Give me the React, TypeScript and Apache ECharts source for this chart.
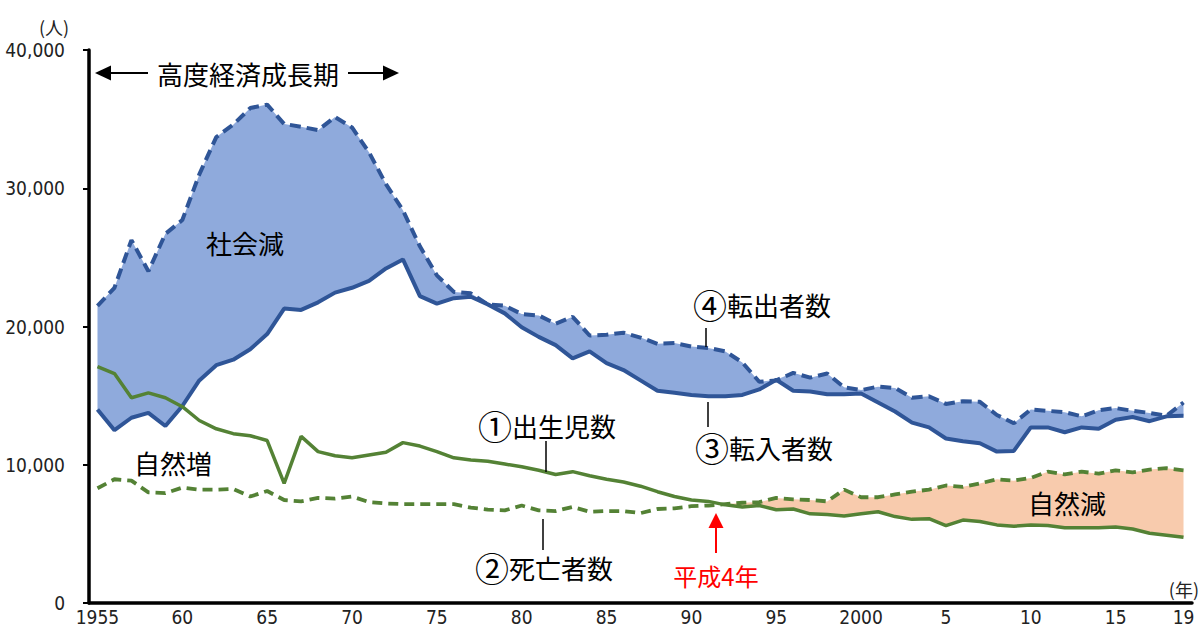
import React, { useEffect, useRef } from "react";
import * as echarts from "echarts";

const years = [
  1955, 1956, 1957, 1958, 1959, 1960, 1961, 1962, 1963, 1964,
  1965, 1966, 1967, 1968, 1969, 1970, 1971, 1972, 1973, 1974,
  1975, 1976, 1977, 1978, 1979, 1980, 1981, 1982, 1983, 1984,
  1985, 1986, 1987, 1988, 1989, 1990, 1991, 1992, 1993, 1994,
  1995, 1996, 1997, 1998, 1999, 2000, 2001, 2002, 2003, 2004,
  2005, 2006, 2007, 2008, 2009, 2010, 2011, 2012, 2013, 2014,
  2015, 2016, 2017, 2018, 2019,
];

// ④転出者数
const outMigrants = [
  21500, 22800, 26250, 24000, 26700, 27700, 31000, 33700, 34600, 35800,
  36050, 34650, 34450, 34200, 35150, 34400, 32600, 30300, 28400, 25800,
  23700, 22500, 22400, 21600, 21500, 20900, 20800, 20200, 20700, 19350,
  19400, 19550, 19200, 18750, 18800, 18550, 18450, 18200, 17400, 16000,
  16100, 16650, 16300, 16600, 15600, 15400, 15650, 15550, 14850, 14950,
  14400, 14600, 14550, 13600, 13000, 14000, 13900, 13800, 13500, 13950,
  14100, 13900, 13750, 13550, 14500,
];

// ③転入者数
const inMigrants = [
  14000, 12500, 13400, 13750, 12800, 14250, 16100, 17200, 17600, 18350,
  19450, 21300, 21200, 21750, 22450, 22800, 23300, 24200, 24850, 22200,
  21650, 22050, 22150, 21600, 20950, 19950, 19250, 18650, 17700, 18200,
  17350, 16850, 16100, 15350, 15200, 15050, 14950, 14950, 15050, 15450,
  16150, 15350, 15300, 15100, 15100, 15150, 14500, 13850, 13050, 12700,
  11900, 11700, 11550, 10950, 11000, 12700, 12700, 12350, 12700, 12600,
  13250, 13450, 13150, 13500, 13550,
];

// ①出生児数
const births = [
  17100, 16600, 14850, 15200, 14850, 14200, 13200, 12600, 12250, 12100,
  11750, 8650, 12050, 10950, 10650, 10500, 10700, 10900, 11600, 11350,
  10950, 10500, 10350, 10250, 10050, 9850, 9600, 9300, 9500, 9200,
  8950, 8750, 8450, 8050, 7700, 7450, 7350, 7100, 6950, 7050,
  6750, 6800, 6450, 6400, 6300, 6450, 6600, 6250, 6050, 6100,
  5600, 6000, 5900, 5650, 5550, 5650, 5600, 5450, 5450, 5450,
  5500, 5350, 5050, 4900, 4750,
];

// ②死亡者数
const deaths = [
  8300, 8950, 8850, 8000, 7950, 8350, 8200, 8200, 8250, 7700,
  8100, 7450, 7350, 7600, 7550, 7700, 7300, 7200, 7150, 7150,
  7150, 7150, 6900, 6750, 6700, 7050, 6700, 6650, 6950, 6600,
  6650, 6650, 6500, 6800, 6850, 7000, 7050, 7150, 7250, 7300,
  7600, 7500, 7450, 7350, 8200, 7650, 7650, 7850, 8050, 8200,
  8500, 8400, 8650, 8950, 8850, 9050, 9500, 9300, 9500, 9350,
  9600, 9450, 9650, 9750, 9600,
];

const xLabelYears = [1955, 1960, 1965, 1970, 1975, 1980, 1985, 1990, 1995, 2000, 2005, 2010, 2015, 2019];
const yMin = 0;
const yMax = 40000;
const yStep = 10000;

const JP = "'Noto Sans CJK JP', 'Noto Sans', sans-serif";
const NUM = "'Liberation Sans Narrow', 'DejaVu Sans Condensed', 'Liberation Sans', sans-serif";

const BLUE = "#2F5597";
const BLUE_FILL = "#8FAADC";
const GREEN = "#548235";
const ORANGE_FILL = "#F8CBAD";

export default function App() {
  const ref = useRef<HTMLDivElement>(null);

  useEffect(() => {
    if (!ref.current) return;
    const chart = echarts.init(ref.current, null, { renderer: "svg" });

    const socialBase = years.map((_, i) => Math.min(outMigrants[i], inMigrants[i]));
    const socialDiff = years.map((_, i) => Math.abs(outMigrants[i] - inMigrants[i]));
    const naturalDiff = years.map((_, i) => Math.max(0, deaths[i] - births[i]));

    const SIZE = 26;
    const text = (t: string, x: number, y: number, size = SIZE, color = "#000") => ({
      type: "text",
      x,
      y,
      z: 100,
      style: {
        text: t,
        fill: color,
        font: `${size}px ${JP}`,
        align: "center",
        verticalAlign: "middle",
      },
    });
    const circled = (mark: string, label: string, x: number, y: number) => ({
      type: "text",
      x,
      y,
      z: 100,
      style: {
        text: `{c|${mark}}{t|${label}}`,
        fill: "#000",
        align: "center",
        verticalAlign: "middle",
        rich: {
          c: { fontSize: 34, fontFamily: JP, fill: "#000", verticalAlign: "middle", lineHeight: 34 },
          t: { fontSize: SIZE, fontFamily: JP, fill: "#000", verticalAlign: "middle", lineHeight: 34 },
        },
      },
    });
    const vline = (x: number, y1: number, y2: number, color = "#000", w = 1.5) => ({
      type: "line",
      z: 100,
      shape: { x1: x, y1, x2: x, y2 },
      style: { stroke: color, lineWidth: w },
    });

    const option: any = {
      animation: false,
      grid: { left: 89, right: 8, top: 50, bottom: 20.5, containLabel: false },
      xAxis: {
        type: "category",
        data: years.map(String),
        boundaryGap: true,
        axisLine: { show: true, lineStyle: { color: "#000", width: 3.5 } },
        axisTick: { show: false },
        splitLine: { show: false },
        axisLabel: {
          interval: (index: number, value: string) => xLabelYears.includes(Number(value)),
          formatter: (v: string) => {
            const y = Number(v);
            return y === 1955 || y === 2000 ? v : String(y % 100);
          },
          color: "#222",
          fontSize: 19,
          fontFamily: NUM,
          margin: 4,
        },
      },
      yAxis: {
        type: "value",
        min: yMin,
        max: yMax,
        interval: yStep,
        axisLine: { show: true, lineStyle: { color: "#000", width: 3.5 } },
        axisTick: { show: true, length: 6, lineStyle: { color: "#000", width: 2 } },
        splitLine: { show: false },
        axisLabel: {
          formatter: (v: number) => v.toLocaleString("en-US"),
          color: "#222",
          fontSize: 19,
          fontFamily: NUM,
          margin: 24,
        },
      },
      series: [
        {
          name: "socialBase",
          type: "line",
          stack: "social",
          data: socialBase,
          symbol: "none",
          silent: true,
          lineStyle: { opacity: 0 },
        },
        {
          name: "社会減",
          type: "line",
          stack: "social",
          data: socialDiff,
          symbol: "none",
          silent: true,
          lineStyle: { opacity: 0 },
          areaStyle: { color: BLUE_FILL, opacity: 1 },
        },
        {
          name: "naturalBase",
          type: "line",
          stack: "natural",
          data: births,
          symbol: "none",
          silent: true,
          lineStyle: { opacity: 0 },
        },
        {
          name: "自然減",
          type: "line",
          stack: "natural",
          data: naturalDiff,
          symbol: "none",
          silent: true,
          lineStyle: { opacity: 0 },
          areaStyle: { color: ORANGE_FILL, opacity: 1 },
        },
        {
          name: "④転出者数",
          type: "line",
          data: outMigrants,
          symbol: "none",
          lineStyle: { color: BLUE, width: 4, type: [11, 6] },
        },
        {
          name: "③転入者数",
          type: "line",
          data: inMigrants,
          symbol: "none",
          lineStyle: { color: BLUE, width: 4 },
        },
        {
          name: "②死亡者数",
          type: "line",
          data: deaths,
          symbol: "none",
          lineStyle: { color: GREEN, width: 3.8, type: [10, 6] },
        },
        {
          name: "①出生児数",
          type: "line",
          data: births,
          symbol: "none",
          lineStyle: { color: GREEN, width: 3.5 },
        },
      ],
      graphic: [
        {
          type: "text",
          x: 54,
          y: 27,
          style: { text: "(人)", fill: "#222", font: `18px ${JP}`, align: "center", verticalAlign: "middle" },
        },
        {
          type: "text",
          x: 1199,
          y: 589,
          style: { text: "(年)", fill: "#222", font: `18px ${JP}`, align: "right", verticalAlign: "middle" },
        },
        text("高度経済成長期", 248, 73),
        { type: "line", shape: { x1: 108, y1: 73, x2: 148, y2: 73 }, style: { stroke: "#000", lineWidth: 2 } },
        { type: "polygon", shape: { points: [[95, 73], [111, 65.5], [111, 80.5]] }, style: { fill: "#000" } },
        { type: "line", shape: { x1: 348, y1: 73, x2: 386, y2: 73 }, style: { stroke: "#000", lineWidth: 2 } },
        { type: "polygon", shape: { points: [[399, 73], [383, 65.5], [383, 80.5]] }, style: { fill: "#000" } },
        text("社会減", 245, 242),
        circled("④", "転出者数", 762, 304),
        vline(706, 328, 347),
        circled("③", "転入者数", 764, 447),
        vline(708, 402, 427),
        circled("①", "出生児数", 547, 425),
        vline(546, 441, 472),
        circled("②", "死亡者数", 544, 567),
        vline(543, 519, 550),
        text("自然増", 173, 462),
        text("自然減", 1067, 502),
        text("平成4年", 716, 575, 24, "#FF0000"),
        vline(716, 526, 553, "#FF0000", 2),
        { type: "polygon", z: 100, shape: { points: [[716, 513], [708.5, 528], [723.5, 528]] }, style: { fill: "#FF0000" } },
      ],
    };

    chart.setOption(option);
    return () => chart.dispose();
  }, []);

  return (
    <div
      ref={ref}
      style={{ position: "fixed", left: 0, top: 0, width: 1200, height: 626, background: "#fff" }}
    />
  );
}
